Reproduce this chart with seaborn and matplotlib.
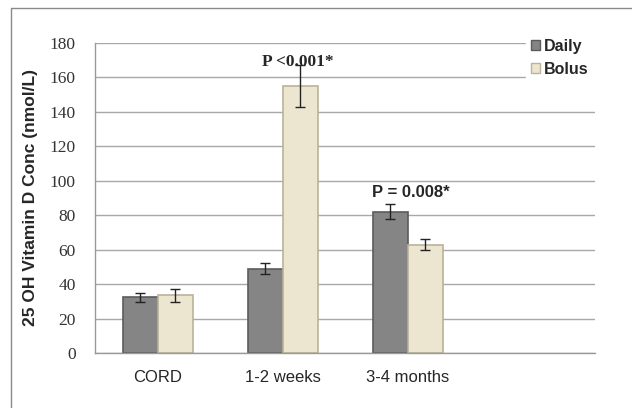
import pandas as pd
import matplotlib
matplotlib.use("Agg")
import matplotlib.pyplot as plt
import seaborn as sns
from matplotlib.patches import Patch
from matplotlib.lines import Line2D

# values
groups = ["CORD", "1-2 weeks", "3-4 months"]
regimens = ["Daily", "Bolus"]
daily = [32.5, 49, 82]
daily_err = [2.6, 3.1, 4.4]
bolus = [33.5, 155, 63]
bolus_err = [3.7, 12, 3.4]

df = pd.DataFrame({
    "group": groups * 2,
    "regimen": ["Daily"] * 3 + ["Bolus"] * 3,
    "conc": daily + bolus,
    "err": daily_err + bolus_err,
})

sns.set_style("white")
plt.rcParams["font.family"] = ["Liberation Sans", "DejaVu Sans"]

fig = plt.figure(figsize=(6.32, 4.08), dpi=100)
ax = fig.add_axes([95 / 632, 1 - 353 / 408, 500 / 632, 310 / 408])

palette = {"Daily": "#858585", "Bolus": "#ece6d1"}
edges = {"Daily": "#5c5c5c", "Bolus": "#bab399"}

sns.barplot(data=df, x="group", y="conc", hue="regimen", order=groups,
            hue_order=regimens, palette=palette, width=0.56, gap=0,
            errorbar=None, saturation=1, legend=False, ax=ax)

# edges + error bars
for cont, reg in zip(ax.containers, regimens):
    sub = df[df["regimen"] == reg].set_index("group").loc[groups]
    for bar, v, e in zip(cont, sub["conc"], sub["err"]):
        bar.set_edgecolor(edges[reg])
        bar.set_linewidth(1.2)
        xc = bar.get_x() + bar.get_width() / 2
        ax.errorbar(xc, v, yerr=e, fmt="none", ecolor="#222222",
                    elinewidth=1, capsize=3.5, capthick=1, zorder=3)

ax.set_xlim(-0.5, 3.5)
ax.set_ylim(0, 180)
ax.set_yticks(range(0, 181, 20))
ax.set_xticks([-0.5, 0.5, 1.5, 2.5, 3.5])
ax.set_xticklabels([])
ax.set_xticks([0, 1, 2], minor=True)
ax.set_xticklabels(groups, minor=True, fontsize=12, family="Liberation Sans")
ax.tick_params(axis="x", which="minor", length=0, pad=12)
ax.tick_params(axis="x", which="major", length=5, color="#999999", direction="out")
ax.tick_params(axis="y", length=5, color="#999999", direction="out", pad=9)
for lab in ax.get_yticklabels():
    lab.set_family("Liberation Serif")
    lab.set_fontsize(12.5)
    lab.set_color("#333333")

ax.yaxis.grid(True, color="#a8a8a8", lw=1)
ax.set_axisbelow(True)
for s in ["top", "right"]:
    ax.spines[s].set_visible(False)
for s in ["left", "bottom"]:
    ax.spines[s].set_color("#999999")
    ax.spines[s].set_linewidth(1)

ax.set_xlabel("")
ax.set_ylabel("25 OH Vitamin D Conc (nmol/L)", fontsize=12.5, fontweight="bold")
ax.yaxis.set_label_coords(-0.114, 0.5)

ax.text(1.12, 169, "P <0.001*", ha="center", va="center", fontsize=12.5,
        fontweight="bold", family="Liberation Serif", zorder=4)
ax.text(2.03, 93, "P = 0.008*", ha="center", va="center", fontsize=12,
        fontweight="bold", zorder=4)

handles = [Patch(facecolor=palette[r], edgecolor=edges[r]) for r in regimens]
leg = ax.legend(handles, regimens, loc="upper left",
                bbox_to_anchor=(526 / 632, 1 - 34 / 408),
                bbox_transform=fig.transFigure, frameon=True, fancybox=False,
                framealpha=1, edgecolor="white", facecolor="white",
                prop={"family": "Liberation Sans", "weight": "bold", "size": 11.5},
                handlelength=0.55, handleheight=0.55, handletextpad=0.3,
                labelspacing=0.5, borderpad=0.3, borderaxespad=0)

# outer frame of the original figure box
fig.add_artist(Line2D([11 / 632, 11 / 632], [0, 1 - 8 / 408], color="#8a8a8a",
                      lw=1, transform=fig.transFigure))
fig.add_artist(Line2D([11 / 632, 1], [1 - 8 / 408, 1 - 8 / 408], color="#8a8a8a",
                      lw=1, transform=fig.transFigure))

fig.savefig("out.png", dpi=100)
